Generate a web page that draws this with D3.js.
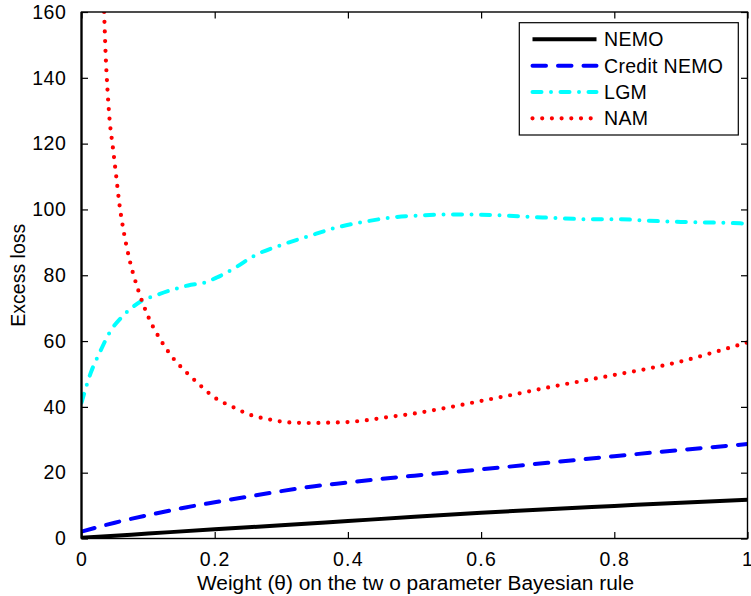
<!DOCTYPE html>
<html>
<head>
<meta charset="utf-8">
<script src="https://cdn.jsdelivr.net/npm/d3@7"></script>
<style>
  html, body { margin: 0; padding: 0; background: #fff; }
  svg text { font-family: "Liberation Sans", Arial, Helvetica, sans-serif; fill: #000; }
</style>
</head>
<body>
<svg id="chart" width="751" height="596"></svg>
<script>
// ---------- data ----------
const seriesNames = ["NEMO", "Credit NEMO", "LGM", "NAM"];

const nemoX = [0, 0.1, 0.2, 0.3, 0.4, 0.5, 0.6, 0.7, 0.8, 0.9, 1];
const nemoY = [0.2, 1.5, 2.8, 4.0, 5.3, 6.6, 7.8, 8.9, 9.9, 10.9, 11.8];

const creditX = [0, 0.05, 0.1, 0.15, 0.2, 0.25, 0.3, 0.35, 0.4, 0.45, 0.5, 0.6, 0.7, 0.8, 0.9, 1];
const creditY = [2.1, 4.8, 7.1, 9.2, 11.0, 12.7, 14.4, 15.9, 17.0, 18.1, 19.1, 21.0, 23.0, 25.0, 26.9, 28.7];

const lgmX = [0, 0.014, 0.028, 0.043, 0.06, 0.075, 0.09, 0.113, 0.138, 0.16, 0.185, 0.203, 0.23, 0.26, 0.3, 0.34, 0.383, 0.426, 0.468, 0.511, 0.553, 0.6, 0.64, 0.68, 0.72, 0.77, 0.81, 0.85, 0.9, 0.95, 1];
const lgmY = [41.3, 50.4, 56.8, 62.9, 67.2, 70.0, 72.2, 74.0, 75.7, 76.9, 77.8, 79.3, 82.2, 86.0, 89.2, 91.8, 94.5, 96.3, 97.6, 98.2, 98.5, 98.4, 98.1, 97.7, 97.3, 97.0, 97.0, 96.6, 96.2, 96.0, 95.7];

const namX = [0.034, 0.036, 0.039, 0.042, 0.047, 0.052, 0.057, 0.064, 0.073, 0.085, 0.1, 0.121, 0.138, 0.158, 0.179, 0.2, 0.227, 0.253, 0.282, 0.31, 0.34, 0.37, 0.4, 0.43, 0.46, 0.5, 0.55, 0.6, 0.65, 0.7, 0.75, 0.8, 0.85, 0.9, 0.95, 1];
const namY = [160, 148.3, 136.5, 127.7, 119.0, 110.3, 101.5, 92.6, 84.0, 75.6, 67.5, 59.6, 54.7, 50.4, 46.4, 42.8, 40.0, 37.6, 36.2, 35.3, 35.1, 35.2, 35.4, 36.0, 36.9, 38.0, 39.8, 41.8, 43.8, 45.9, 47.8, 49.7, 51.6, 53.8, 56.6, 59.6];

const xTicks = [0, 0.2, 0.4, 0.6, 0.8, 1];
const xTickLabels = ["0", "0.2", "0.4", "0.6", "0.8", "1"];
const yTicks = [0, 20, 40, 60, 80, 100, 120, 140, 160];
const yTickLabels = ["0", "20", "40", "60", "80", "100", "120", "140", "160"];

const xLabel = "Weight (\u03b8) on the tw o parameter Bayesian rule";
const yLabel = "Excess loss";

// ---------- layout ----------
const pLeft = 81.5, pRight = 747.5, pTop = 12, pBottom = 538.5;
const svg = d3.select("#chart");

const x = d3.scaleLinear().domain([0, 1]).range([pLeft, pRight]);
const y = d3.scaleLinear().domain([0, 160]).range([pBottom, pTop]);

const styles = [
  { color: "#000000", dash: null, width: 4, cap: "butt" },
  { color: "#0000ff", dash: "13.5 12", width: 4, cap: "round" },
  { color: "#00ffff", dash: "9 9.5 0 9.5", width: 4, cap: "round" },
  { color: "#ff0000", dash: "0 9.7", width: 4.2, cap: "round" }
];

const data = [
  d3.zip(nemoX, nemoY),
  d3.zip(creditX, creditY),
  d3.zip(lgmX, lgmY),
  d3.zip(namX, namY)
];

svg.append("defs").append("clipPath").attr("id", "plotclip")
  .append("rect").attr("x", pLeft).attr("y", pTop)
  .attr("width", pRight - pLeft).attr("height", pBottom - pTop);

const line = d3.line().x(d => x(d[0])).y(d => y(d[1])).curve(d3.curveMonotoneX);

const plot = svg.append("g").attr("clip-path", "url(#plotclip)");
data.forEach((d, i) => {
  const s = styles[i];
  const p = plot.append("path").datum(d)
    .attr("d", line)
    .attr("fill", "none")
    .attr("stroke", s.color)
    .attr("stroke-width", s.width)
    .attr("stroke-linecap", s.cap)
    .attr("stroke-linejoin", "round");
  if (s.dash) p.attr("stroke-dasharray", s.dash);
});

// ---------- axes (box with inward ticks on all sides) ----------
const tickLen = 6.5;
const axisColor = "#000";
const fontSize = 19.5;

const xAxisB = d3.axisBottom(x).tickValues(xTicks)
  .tickFormat((d, i) => xTickLabels[i]).tickSizeInner(-tickLen).tickSizeOuter(0).tickPadding(14);
const gB = svg.append("g").attr("transform", `translate(0,${pBottom})`).call(xAxisB);
const xAxisT = d3.axisTop(x).tickValues(xTicks).tickFormat("").tickSizeInner(-tickLen).tickSizeOuter(0);
const gT = svg.append("g").attr("transform", `translate(0,${pTop})`).call(xAxisT);
const yAxisL = d3.axisLeft(y).tickValues(yTicks)
  .tickFormat((d, i) => yTickLabels[i]).tickSizeInner(-tickLen).tickSizeOuter(0).tickPadding(15);
const gL = svg.append("g").attr("transform", `translate(${pLeft},0)`).call(yAxisL);
const yAxisR = d3.axisRight(y).tickValues(yTicks).tickFormat("").tickSizeInner(-tickLen).tickSizeOuter(0);
const gR = svg.append("g").attr("transform", `translate(${pRight},0)`).call(yAxisR);

[gB, gT, gL, gR].forEach(g => {
  g.select(".domain").remove();
  g.selectAll(".tick line").attr("stroke", axisColor).attr("stroke-width", 1.2);
  g.selectAll(".tick text").attr("font-size", fontSize)
    .attr("font-family", "Liberation Sans, Arial, sans-serif").attr("fill", "#000");
});
gB.selectAll(".tick text").attr("letter-spacing", 1.2);
gL.selectAll(".tick text").attr("letter-spacing", 0.6);

svg.append("rect").attr("x", pLeft).attr("y", pTop)
  .attr("width", pRight - pLeft).attr("height", pBottom - pTop)
  .attr("fill", "none").attr("stroke", axisColor).attr("stroke-width", 1.4);
svg.append("line").attr("x1", pLeft).attr("x2", pLeft).attr("y1", pTop).attr("y2", pBottom)
  .attr("stroke", axisColor).attr("stroke-width", 2.2);

svg.append("text").attr("x", (197 + 634) / 2).attr("y", 590)
  .attr("text-anchor", "middle").attr("font-size", fontSize)
  .attr("textLength", 437).attr("lengthAdjust", "spacingAndGlyphs")
  .text(xLabel);
svg.append("text")
  .attr("transform", `translate(25,${(pTop + pBottom) / 2}) rotate(-90)`)
  .attr("text-anchor", "middle").attr("font-size", fontSize)
  .text(yLabel);

// ---------- legend ----------
const lg = svg.append("g");
lg.append("rect").attr("x", 519.3).attr("y", 22.7).attr("width", 219).attr("height", 112.3)
  .attr("fill", "#fff").attr("stroke", "#000").attr("stroke-width", 1.2);
const rowY = d3.scaleLinear().domain([0, 3]).range([39.3, 118.3]);
seriesNames.forEach((name, i) => {
  const s = styles[i];
  const yy = rowY(i);
  const l = lg.append("line").attr("x1", 532.5).attr("x2", 596.5).attr("y1", yy).attr("y2", yy)
    .attr("stroke", s.color).attr("stroke-width", s.width).attr("stroke-linecap", s.cap);
  if (s.dash) l.attr("stroke-dasharray", s.dash);
  lg.append("text").attr("x", 604).attr("y", yy).attr("dy", "0.36em")
    .attr("font-size", fontSize).attr("letter-spacing", 0.3).text(name);
});
</script>
</body>
</html>
